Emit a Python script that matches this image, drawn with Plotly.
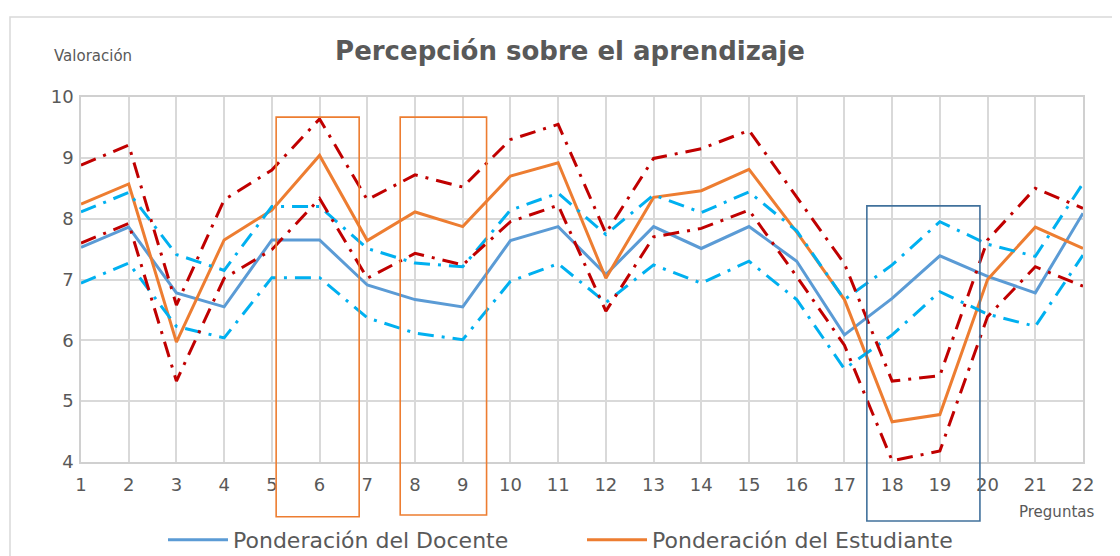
import plotly.graph_objects as go

# ---------------- data ----------------
preguntas = list(range(1, 23))
tick_labels = [str(i) for i in preguntas]

docente = [7.53, 7.86, 6.78, 6.55, 7.65, 7.65, 6.91, 6.67, 6.55, 7.64, 7.87,
           7.08, 7.87, 7.51, 7.87, 7.30, 6.09, 6.69, 7.39, 7.05, 6.78, 8.09]
estudiante = [8.24, 8.57, 5.97, 7.65, 8.14, 9.04, 7.64, 8.11, 7.87, 8.70, 8.92,
              7.02, 8.35, 8.46, 8.81, 7.78, 6.67, 4.66, 4.78, 7.00, 7.86, 7.51]
docente_sup = [8.11, 8.43, 7.41, 7.15, 8.20, 8.20, 7.51, 7.27, 7.21, 8.14, 8.42,
               7.74, 8.39, 8.10, 8.44, 7.80, 6.67, 7.24, 7.95, 7.58, 7.38, 8.58]
docente_inf = [6.94, 7.27, 6.23, 6.04, 7.03, 7.03, 6.37, 6.12, 6.01, 6.97, 7.26,
               6.62, 7.24, 6.94, 7.30, 6.67, 5.53, 6.09, 6.80, 6.43, 6.23, 7.40]
estudiante_sup = [8.88, 9.21, 6.58, 8.31, 8.80, 9.64, 8.31, 8.72, 8.52, 9.30, 9.55,
                  7.76, 8.99, 9.15, 9.45, 8.35, 7.26, 5.33, 5.42, 7.65, 8.50, 8.17]
estudiante_inf = [7.60, 7.92, 5.33, 7.02, 7.49, 8.33, 7.02, 7.43, 7.24, 7.95, 8.22,
                  6.48, 7.70, 7.84, 8.14, 7.05, 5.92, 4.02, 4.18, 6.39, 7.21, 6.89]

# highlight boxes (in data units: x0, x1, y0, y1)
boxes = [
    (5.09, 6.83, 3.10, 9.67, "#ED7D31"),
    (7.69, 9.50, 3.13, 9.67, "#ED7D31"),
    (17.47, 19.84, 3.03, 8.21, "#41719C"),
]

XR = (1, 22)
YR = (4, 10)

GRAY = "#595959"
FONT = "DejaVu Sans"
DASHDOT = "16px,8px,3px,8px"

# the page body has an 8px margin, so the figure is slightly smaller
W, H = 1112, 548
ML, MR, MT, MB = 73, 37, 89, 94
PW, PH = W - ML - MR, H - MT - MB

fig = go.Figure()

fig.add_trace(go.Scatter(x=preguntas, y=docente, mode="lines",
                         name="Ponderación del Docente",
                         line=dict(color="#5B9BD5", width=3)))
fig.add_trace(go.Scatter(x=preguntas, y=estudiante, mode="lines",
                         name="Ponderación del Estudiante",
                         line=dict(color="#ED7D31", width=3)))
for ser in (docente_sup, docente_inf):
    fig.add_trace(go.Scatter(x=preguntas, y=ser, mode="lines", showlegend=False,
                             line=dict(color="#00B0F0", width=3, dash=DASHDOT)))
for ser in (estudiante_sup, estudiante_inf):
    fig.add_trace(go.Scatter(x=preguntas, y=ser, mode="lines", showlegend=False,
                             line=dict(color="#C00000", width=3, dash=DASHDOT)))

def px_(v):
    return (v - XR[0]) / (XR[1] - XR[0])

def py_(v):
    return (v - YR[0]) / (YR[1] - YR[0])

def fx(page_x):   # page pixel -> paper x
    return (page_x - 8 - ML) / PW

def fy(page_y):   # page pixel -> paper y
    return (H - MB - (page_y - 8)) / PH

shapes = []
# chart area border
shapes.append(dict(type="rect", xref="paper", yref="paper",
                   x0=fx(10), x1=fx(1140), y0=fy(600), y1=fy(17),
                   line=dict(color="#D9D9D9", width=1.5), layer="below"))
for x0, x1, y0, y1, col in boxes:
    shapes.append(dict(type="rect", xref="paper", yref="paper",
                       x0=px_(x0), x1=px_(x1), y0=py_(y0), y1=py_(y1),
                       line=dict(color=col, width=1.6)))

fig.update_layout(
    width=W, height=H,
    margin=dict(l=ML, r=MR, t=MT, b=MB, autoexpand=False),
    paper_bgcolor="white", plot_bgcolor="white",
    title=dict(text="<b>Percepción sobre el aprendizaje</b>",
               x=(570 - 8) / W, y=1 - (51 - 8) / H, xref="container", yref="container",
               xanchor="center", yanchor="middle",
               font=dict(family=FONT, size=26, color=GRAY)),
    xaxis=dict(range=list(XR), tickvals=preguntas, ticktext=tick_labels,
               showgrid=True, gridcolor="#D9D9D9", gridwidth=1.5,
               showline=True, linecolor="#D0D0D0", linewidth=1.5, mirror=True,
               zeroline=False, ticks="", ticklabelstandoff=6,
               tickfont=dict(family=FONT, size=18, color=GRAY)),
    yaxis=dict(range=list(YR), dtick=1,
               showgrid=True, gridcolor="#D9D9D9", gridwidth=1.5,
               showline=True, linecolor="#D0D0D0", linewidth=1.5, mirror=True,
               zeroline=False, ticks="", ticklabelstandoff=2,
               tickfont=dict(family=FONT, size=18, color=GRAY)),
    legend=dict(orientation="h", x=fx(163), y=fy(540), xanchor="left", yanchor="middle",
                font=dict(family=FONT, size=22, color=GRAY),
                entrywidth=344, itemwidth=60, bgcolor="rgba(0,0,0,0)"),
    shapes=shapes,
    annotations=[
        dict(text="Valoración", xref="paper", yref="paper",
             x=fx(93), y=fy(56), showarrow=False,
             xanchor="center", yanchor="middle",
             font=dict(family=FONT, size=15, color=GRAY)),
        dict(text="Preguntas", xref="paper", yref="paper",
             x=fx(1056), y=fy(512), showarrow=False,
             xanchor="center", yanchor="middle",
             font=dict(family=FONT, size=15, color=GRAY)),
    ],
)

fig.write_html("out.html")
